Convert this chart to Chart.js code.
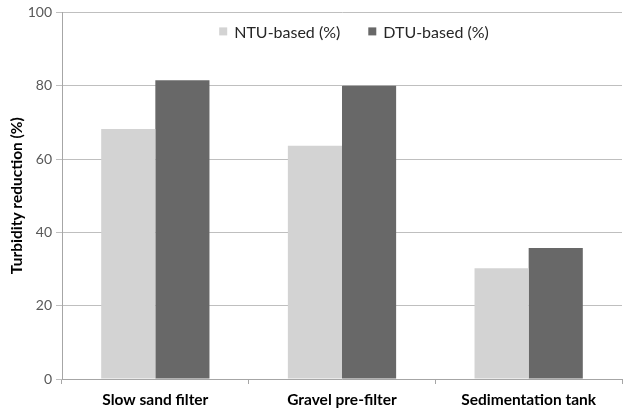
<!DOCTYPE html>
<html>
<head>
<meta charset="utf-8">
<script src="https://cdn.jsdelivr.net/npm/chart.js@4/dist/chart.umd.min.js"></script>
<style>
  html, body { margin: 0; padding: 0; background: #ffffff; }
  #wrap { width: 625px; height: 413px; position: relative; }
</style>
</head>
<body>
<div id="wrap"><canvas id="c"></canvas></div>
<script>
// Turbidity reduction by treatment unit
const categories = ['Slow sand filter', 'Gravel pre-filter', 'Sedimentation tank'];
const ntuBased = [68.2, 63.6, 30.2];
const dtuBased = [81.5, 80.0, 35.7];
const seriesLabels = ['NTU-based (%)', 'DTU-based (%)'];
const seriesColors = ['#d3d3d3', '#686868'];

const FONT = 'Lato, "Open Sans", "Liberation Sans", sans-serif';

// Legend drawn inside the plot area, centred near the top
const innerLegend = {
  id: 'innerLegend',
  afterDraw(chart) {
    const ctx = chart.ctx;
    const area = chart.chartArea;
    ctx.save();
    ctx.font = '16px ' + FONT;
    ctx.textBaseline = 'middle';
    const box = 8, gap = 7, spacing = 28;
    const widths = chart.data.datasets.map(d => ctx.measureText(d.label).width);
    const total = widths.reduce((a, w) => a + box + gap + w, 0) + spacing * (widths.length - 1);
    let x = area.left + (area.right - area.left - total) / 2 + 12;
    const y = area.top + 19;
    chart.data.datasets.forEach((d, i) => {
      ctx.fillStyle = d.backgroundColor;
      ctx.fillRect(x, y - box / 2, box, box);
      x += box + gap;
      ctx.fillStyle = '#262626';
      ctx.fillText(d.label, x, y + 1);
      x += widths[i] + spacing;
    });
    ctx.restore();
  }
};

new Chart(document.getElementById('c'), {
  type: 'bar',
  data: {
    labels: categories,
    datasets: [
      { label: seriesLabels[0], data: ntuBased, backgroundColor: seriesColors[0] },
      { label: seriesLabels[1], data: dtuBased, backgroundColor: seriesColors[1] }
    ]
  },
  options: {
    responsive: true,
    maintainAspectRatio: false,
    animation: false,
    layout: { padding: { top: 11, right: 3, left: 0, bottom: 0 } },
    datasets: { bar: { categoryPercentage: 0.58, barPercentage: 1.0 } },
    plugins: {
      legend: { display: false },
      tooltip: { enabled: false }
    },
    scales: {
      x: {
        grid: { display: true, drawOnChartArea: false, color: '#a6a6a6', tickLength: 5, offset: true },
        border: { color: '#a6a6a6' },
        ticks: { color: '#000000', font: { family: FONT, size: 15.5, weight: 'bold' }, padding: 7, maxRotation: 0 },
        afterFit(s) { s.height = 34; }
      },
      y: {
        min: 0, max: 100,
        ticks: { stepSize: 20, color: '#595959', font: { family: FONT, size: 14 }, padding: 4 },
        grid: { color: '#bfbfbf', tickLength: 6 },
        border: { color: '#a6a6a6' },
        title: {
          display: true, text: 'Turbidity reduction (%)', color: '#000000',
          font: { family: FONT, size: 15.5, weight: 'bold' }, padding: { top: 8, bottom: 4 }
        },
        afterFit(s) { s.width = 62; }
      }
    }
  },
  plugins: [innerLegend]
});
</script>
</body>
</html>
